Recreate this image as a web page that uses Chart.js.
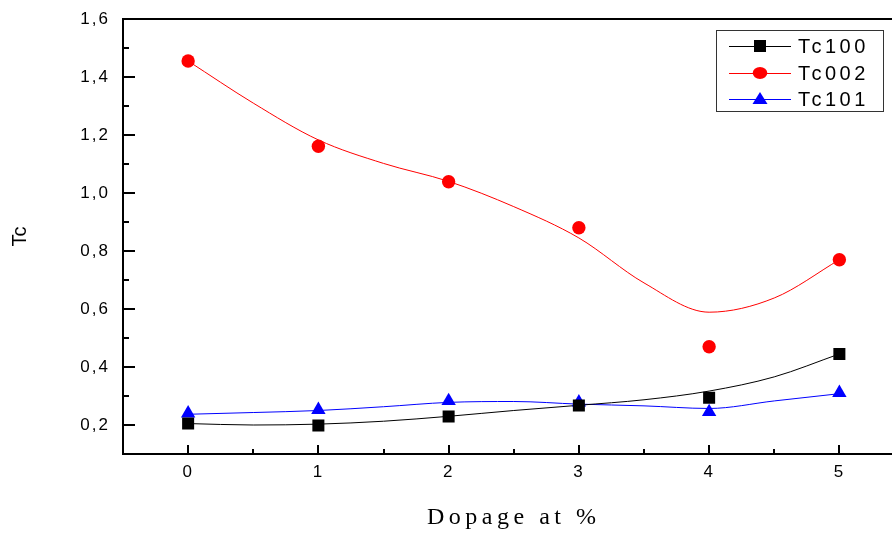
<!DOCTYPE html>
<html>
<head>
<meta charset="utf-8">
<script src="https://cdn.jsdelivr.net/npm/chart.js@4.4.0/dist/chart.umd.min.js"></script>
<style>
  html, body { margin: 0; padding: 0; overflow: hidden; background: #fff; }
  #wrap { width: 913px; height: 534px; }
</style>
</head>
<body>
<div id="wrap"><canvas id="myChart" width="913" height="534"></canvas></div>
<script>
// measured points
const dopage = [0, 1, 2, 3, 4, 5];
const tc100 = [0.205, 0.198, 0.229, 0.267, 0.294, 0.445];
const tc002 = [1.455, 1.161, 1.039, 0.880, 0.470, 0.770];
const tc101 = [0.240, 0.252, 0.283, 0.278, 0.245, 0.311];

// smoothed curves
const fitX = [0, 0.5, 1, 1.5, 2, 2.5, 3, 3.5, 4, 4.5, 5];
const fit100 = [0.205, 0.200, 0.203, 0.213, 0.230, 0.250, 0.268, 0.287, 0.317, 0.366, 0.445];
const fit002 = [1.455, 1.310, 1.183, 1.102, 1.040, 0.953, 0.845, 0.690, 0.589, 0.638, 0.770];
const fit101 = [0.237, 0.243, 0.250, 0.263, 0.278, 0.281, 0.272, 0.266, 0.257, 0.283, 0.308];

const seriesNames = ['Tc100', 'Tc002', 'Tc101'];
const seriesColors = ['#000000', '#ff0000', '#0000ff'];

const pts = (xs, ys) => xs.map((x, i) => ({ x: x, y: ys[i] }));

const ctx = document.getElementById('myChart');

const frame = {
  id: 'frame',
  beforeDraw(chart) {
    chart.ctx.letterSpacing = '2px';
    const spacing = { x: '4.5px', y: '0px' };
    Object.keys(spacing).forEach(id => {
      const s = chart.scales[id];
      if (s && !s._spaced) {
        const orig = s.drawTitle;
        s.drawTitle = function () {
          this.ctx.save();
          this.ctx.letterSpacing = spacing[id];
          orig.call(this);
          this.ctx.restore();
        };
        s._spaced = true;
      }
    });
  },
  afterDraw(chart) {
    const c = chart.ctx;
    const a = chart.chartArea;
    const x = chart.scales.x;
    const y = chart.scales.y;
    c.save();
    c.strokeStyle = '#000';
    c.lineWidth = 2;
    c.beginPath();
    c.moveTo(a.left - 1, a.top);
    c.lineTo(a.right, a.top);
    // inside tick marks
    x.ticks.forEach(t => {
      if (t.value <= x.min || t.value >= x.max) return;
      const px = Math.round(x.getPixelForValue(t.value));
      const len = Number.isInteger(t.value) ? 9 : 5;
      c.moveTo(px, a.bottom);
      c.lineTo(px, a.bottom - len);
    });
    y.ticks.forEach(t => {
      if (t.value <= y.min + 1e-6) return;
      const py = Math.round(y.getPixelForValue(t.value));
      const len = Math.round(t.value * 10) % 2 === 0 ? 12 : 6;
      c.moveTo(a.left, py);
      c.lineTo(a.left + len, py);
    });
    c.stroke();

    // legend box
    const bx = 716, by = 30, bw = 167, bh = 81;
    c.lineWidth = 1;
    c.strokeStyle = '#333';
    c.fillStyle = '#fff';
    c.fillRect(bx, by, bw, bh);
    c.strokeRect(bx + 0.5, by + 0.5, bw, bh);
    const rows = [46, 73, 99];
    c.font = '20px "Liberation Sans", Arial, sans-serif';
    c.textBaseline = 'middle';
    c.textAlign = 'left';
    c.letterSpacing = '3.5px';
    seriesNames.forEach((name, i) => {
      const ry = rows[i];
      c.strokeStyle = seriesColors[i];
      c.fillStyle = seriesColors[i];
      c.lineWidth = 1;
      c.beginPath();
      c.moveTo(729, ry + 0.5);
      c.lineTo(791, ry + 0.5);
      c.stroke();
      c.beginPath();
      if (i === 0) {
        c.rect(754, ry - 6, 12, 12);
      } else if (i === 1) {
        c.ellipse(760, ry, 7.3, 6, 0, 0, Math.PI * 2);
      } else {
        c.moveTo(760, ry - 7);
        c.lineTo(767.5, ry + 5);
        c.lineTo(752.5, ry + 5);
        c.closePath();
      }
      c.fill();
      c.fillStyle = '#000';
      c.fillText(name, 798, ry + 1);
    });
    c.restore();
  }
};

const curve = (i, ys) => ({
  label: 'fit ' + seriesNames[i],
  data: pts(fitX, ys),
  showLine: true,
  cubicInterpolationMode: 'monotone',
  borderColor: seriesColors[i],
  borderWidth: 1,
  pointRadius: 0,
  order: 2
});

new Chart(ctx, {
  type: 'scatter',
  data: {
    datasets: [
      curve(0, fit100),
      curve(1, fit002),
      curve(2, fit101),
      { label: seriesNames[0], data: pts(dopage, tc100), showLine: false, pointStyle: 'rect', pointRadius: 8.5, backgroundColor: seriesColors[0], borderColor: seriesColors[0], borderWidth: 0, order: 1 },
      { label: seriesNames[1], data: pts(dopage, tc002), showLine: false, pointStyle: 'circle', pointRadius: 6.7, backgroundColor: seriesColors[1], borderColor: seriesColors[1], borderWidth: 0, order: 1 },
      { label: seriesNames[2], data: pts(dopage, tc101), showLine: false, pointStyle: 'triangle', pointRadius: 8.3, backgroundColor: seriesColors[2], borderColor: seriesColors[2], borderWidth: 0, order: 1 }
    ]
  },
  options: {
    responsive: false,
    animation: false,
    devicePixelRatio: 1,
    layout: { padding: { top: 19, left: 0, right: 0, bottom: 0 } },
    plugins: {
      legend: { display: false },
      tooltip: { enabled: false }
    },
    scales: {
      x: {
        type: 'linear',
        min: -0.5,
        max: 5.5,
        grid: { display: false, drawTicks: false },
        border: { display: true, color: '#000', width: 2 },
        ticks: {
          stepSize: 0.5,
          autoSkip: false,
          maxRotation: 0,
          padding: 8,
          color: '#000',
          font: { family: '"Liberation Sans", Arial, sans-serif', size: 17 },
          callback: v => Number.isInteger(v) ? String(v) : ''
        },
        title: {
          display: true,
          text: 'Dopage at %',
          color: '#000',
          font: { family: '"Liberation Serif", "Times New Roman", serif', size: 24 },
          padding: { top: 0, bottom: 2 }
        },
        afterFit: s => { s.height = 80; s.paddingLeft = 0; s.paddingRight = 0; }
      },
      y: {
        type: 'linear',
        min: 0.1,
        max: 1.6,
        grid: { display: false, drawTicks: false },
        border: { display: true, color: '#000', width: 2 },
        ticks: {
          stepSize: 0.1,
          autoSkip: false,
          padding: 13,
          color: '#000',
          font: { family: '"Liberation Sans", Arial, sans-serif', size: 17 },
          callback: v => {
            const k = Math.round(v * 10);
            return k % 2 === 0 ? (k / 10).toFixed(1).replace('.', ',') : '';
          }
        },
        title: {
          display: true,
          text: 'Tc',
          color: '#000',
          font: { family: '"Liberation Sans", Arial, sans-serif', size: 20 },
          padding: { top: 8, bottom: 0 }
        },
        afterFit: s => { s.width = 123; s.paddingTop = 0; s.paddingBottom = 0; }
      }
    }
  },
  plugins: [frame]
});
</script>
</body>
</html>
